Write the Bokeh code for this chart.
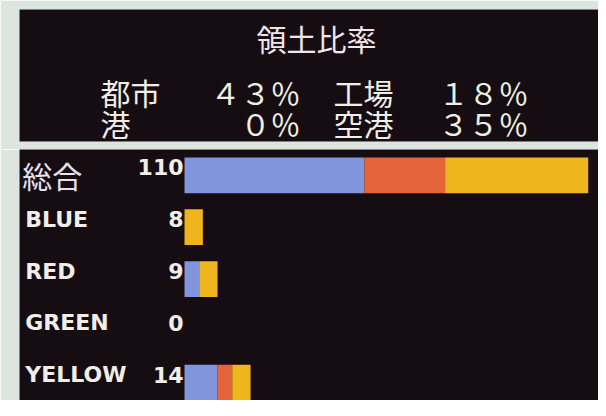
from bokeh.plotting import figure
from bokeh.models import ColumnDataSource, Range1d
from bokeh.layouts import column
from bokeh.core.properties import value
from bokeh.embed import file_html
from bokeh.resources import INLINE

# ---- data ----
title_text = "領土比率"
share_labels = ["都市", "工場", "港", "空港"]
share_pcts = [43, 18, 0, 35]

categories = ["総合", "BLUE", "RED", "GREEN", "YELLOW"]
counts = [110, 8, 9, 0, 14]
blue_part = [49, 0, 4, 0, 9]
orange_part = [22, 0, 0, 0, 4]
yellow_part = [39, 5, 5, 0, 5]

# ---- styles ----
PANEL = "#150d11"
EDGE = "#dce5df"
WHITE = "#f1eee8"
CJK = "Noto Sans CJK JP"
SEG_COLORS = ["#8095dc", "#e5643c", "#efb51c"]

FW = str.maketrans("0123456789%", "０１２３４５６７８９％")


def fullwidth(n):
    return f"{n}%".translate(FW)


# ---- top panel ----
top = figure(width=598, height=149, output_backend="svg", toolbar_location=None,
             x_range=Range1d(19, 598), y_range=Range1d(141, 9),
             x_axis_location=None, y_axis_location=None,
             min_border=0, min_border_left=19, min_border_top=9, min_border_bottom=8,
             background_fill_color=PANEL, border_fill_color=EDGE,
             outline_line_color=None)
top.grid.visible = False

top.text(x=[316], y=[37], text=[title_text], text_font=value(CJK),
         text_font_size="30px", text_color="#f3e4ec",
         text_align="center", text_baseline="middle")

lab_x = [100, 333, 100, 333]
val_x = [300, 528, 300, 528]
row_y = [91, 91, 122, 122]
top_src = ColumnDataSource(dict(
    lx=lab_x, vx=val_x, y=row_y, lab=share_labels,
    val=[fullwidth(v) for v in share_pcts]))
top.text(x="lx", y="y", text="lab", source=top_src, text_font=value(CJK),
         text_font_size="30px", text_color=WHITE,
         text_align="left", text_baseline="middle")
top.text(x="vx", y="y", text="val", source=top_src, text_font=value(CJK),
         text_font_size="30px", text_color="#eef0e2",
         text_align="right", text_baseline="middle")

# ---- bottom panel ----
rows = list(range(len(categories)))
bot = figure(width=598, height=251, output_backend="svg", toolbar_location=None,
             x_range=Range1d(-44.96, 112.8), y_range=Range1d(4.345, -0.5),
             x_axis_location=None, y_axis_location=None,
             min_border=0, min_border_left=19,
             background_fill_color=PANEL, border_fill_color=EDGE,
             outline_line_color=None)
bot.grid.visible = False

src = ColumnDataSource(dict(row=rows, cat=categories, blue=blue_part,
                            orange=orange_part, yellow=yellow_part,
                            count=[str(c) for c in counts]))
bot.hbar_stack(["blue", "orange", "yellow"], y="row", height=0.69, source=src,
               fill_color=SEG_COLORS, line_color=None)

# category labels
bot.text(x=[-44.2], y=rows[:1], text=categories[:1], text_font=value(CJK),
         text_font_size="30px", text_color="#e6e0f2",
         text_align="left", text_baseline="middle")
bot.text(x=[-43.4] * 4, y=rows[1:], text=categories[1:],
         text_font=value("DejaVu Sans"), text_font_style="bold",
         text_font_size="22px", text_color=WHITE,
         text_align="left", text_baseline="middle", y_offset=-8)

# count labels
bot.text(x=0, y="row", text="count", source=src,
         text_font=value("DejaVu Sans"), text_font_style="bold",
         text_font_size="22px", text_color=WHITE,
         text_align="right", text_baseline="middle", x_offset=-1, y_offset=-8)

layout = column(top, bot, spacing=0)
open("out.html", "w").write(file_html(layout, INLINE))
